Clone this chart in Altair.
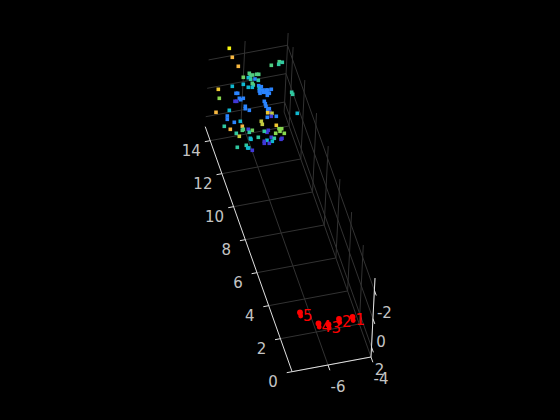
import numpy as np
import pandas as pd
import altair as alt

# Axis ticks (data units)
y_ticks = [0, 2, 4, 6, 8, 10, 12, 14]
x_ticks = [-6, -4]
z_ticks = [-2, 0, 2]
x_lim = (-7.67, -4.0)
y_lim = (0.0, 14.85)
z_lim = (-2.86, 2.7)

# Oblique view of the box: one data unit along each axis on the view plane
ORIGIN = np.array([371.0, 357.0])   # x=-4, y=0, z=z_max
EX = np.array([21.5, -4.0])
EY = np.array([-5.85, -16.5])
EZ = np.array([-0.72, 14.2])


def project(x, y, z):
    p = ORIGIN + (x + 4.0) * EX + y * EY + (z - z_lim[1]) * EZ
    return float(p[0]), float(p[1])


def seg(a, b, kind):
    (u, v), (u2, v2) = project(*a), project(*b)
    return {"u": u, "v": v, "u2": u2, "v2": v2, "kind": kind}


x0, x1 = x_lim
y0, y1 = y_lim
zt, zb = z_lim

grid = []
for y in y_ticks:
    grid.append(seg((x0, y, zb), (x1, y, zb), "grid"))   # floor
    grid.append(seg((x1, y, zb), (x1, y, zt), "grid"))   # side wall
for x in x_ticks:
    grid.append(seg((x, y0, zb), (x, y1, zb), "grid"))   # floor
    grid.append(seg((x, y1, zb), (x, y1, zt), "grid"))   # back wall
for z in z_ticks:
    grid.append(seg((x0, y1, z), (x1, y1, z), "grid"))   # back wall
    grid.append(seg((x1, y0, z), (x1, y1, z), "grid"))   # side wall

axes = [
    seg((x0, y0, zb), (x0, y1, zb), "axis"),
    seg((x0, y0, zb), (x1, y0, zb), "axis"),
    seg((x1, y0, zb), (x1, y0, zt), "axis"),
]
for y in y_ticks:
    axes.append(seg((x0, y, zb), (x0 - 0.25, y, zb), "axis"))
for x in x_ticks:
    axes.append(seg((x, y0, zb), (x, y0 - 0.32, zb), "axis"))
for z in z_ticks:
    axes.append(seg((x1, y0, z), (x1, y0 - 0.32, z), "axis"))

labels = []
for y in y_ticks:
    u, v = project(x0, y, zb)
    labels.append({"u": u - 19, "v": v + 10, "text": str(y)})
for x in x_ticks:
    u, v = project(x, y0, zb)
    labels.append({"u": u + 10, "v": v + 22, "text": str(x)})
for z, du in zip(z_ticks, [10, 8, 8]):
    u, v = project(x1, y0, z)
    labels.append({"u": u + du, "v": v + 23, "text": str(z)})

# Scattered cloud: view-plane position and colour value
cloud_u = [229.3, 232.3, 238.3, 271.3, 279.3, 282.3, 278.7, 243.3, 249.3, 250.3, 252.7, 256.7, 258.7,
           248.3, 250.7, 255.0, 258.3, 243.3, 252.3, 253.3, 248.3, 252.3, 232.3, 218.3, 258.7, 259.3,
           261.3, 259.3, 262.7, 266.0, 268.0, 271.3, 260.0, 263.3, 266.7, 269.3, 267.3, 236.0, 237.7,
           219.3, 239.3, 243.3, 240.7, 235.0, 236.7, 264.3, 265.3, 245.3, 245.3, 266.0, 268.0, 269.3,
           249.3, 267.7, 270.0, 267.7, 229.3, 216.0, 272.0, 271.3, 276.3, 267.3, 227.3, 227.3, 234.3,
           240.3, 261.3, 262.3, 276.3, 242.3, 224.3, 230.3, 248.3, 243.3, 242.3, 252.3, 279.0, 281.7,
           280.0, 268.3, 267.0, 264.3, 236.3, 249.3, 275.7, 284.3, 239.3, 258.3, 250.3, 251.0, 271.3,
           274.3, 267.0, 272.3, 264.3, 264.3, 269.3, 282.0, 281.0, 237.3, 246.3, 247.7, 248.7, 252.3,
           291.7, 292.7, 297.3]
cloud_v = [48.3, 57.3, 66.3, 65.3, 61.7, 62.3, 64.3, 77.3, 73.3, 76.0, 75.0, 74.3, 74.3,
           77.7, 79.3, 79.0, 80.3, 84.3, 83.3, 85.0, 87.3, 87.3, 86.3, 89.3, 85.7, 88.3,
           86.7, 91.0, 90.0, 90.0, 90.0, 89.3, 93.3, 92.3, 92.3, 93.3, 95.3, 93.3, 93.3,
           98.3, 98.3, 98.3, 99.7, 101.3, 101.3, 101.3, 103.7, 106.3, 108.7, 106.3, 108.7, 108.7,
           110.3, 110.3, 112.3, 112.7, 110.3, 112.3, 113.3, 116.3, 116.3, 117.3, 116.0, 119.3, 122.3,
           121.3, 121.3, 124.3, 125.3, 126.3, 126.3, 129.3, 129.3, 129.3, 130.3, 130.3, 128.7, 128.7,
           131.3, 130.3, 132.3, 131.3, 133.3, 132.3, 133.3, 133.3, 136.3, 137.3, 138.3, 139.3, 137.3,
           138.3, 140.3, 141.3, 141.3, 143.3, 143.3, 138.3, 139.3, 147.3, 145.3, 148.0, 148.0, 150.3,
           92.3, 94.3, 113.3]
# 0 indigo ... 11 yellow
cloud_c = [11, 9, 9, 4, 4, 3, 3, 5, 4, 4, 4, 4, 4,
           2, 3, 1, 3, 2, 4, 4, 2, 2, 2, 10, 1, 2,
           1, 1, 1, 1, 1, 1, 1, 1, 1, 1, 1, 1, 1,
           6, 1, 1, 1, 0, 0, 1, 1, 1, 1, 1, 1, 1,
           1, 1, 0, 10, 2, 9, 7, 0, 1, 1, 1, 1, 1,
           2, 7, 7, 10, 9, 3, 9, 0, 4, 4, 5, 6, 6,
           6, 0, 0, 3, 3, 3, 6, 6, 7, 3, 2, 2, 0,
           3, 2, 2, 0, 0, 0, 0, 0, 3, 3, 2, 2, 0,
           3, 3, 2]
palette = ["#4038d8", "#2a84ff", "#10b8d0", "#30c8a0", "#50cc80", "#70d060",
           "#88d850", "#c4cc40", "#e0d040", "#f8b840", "#f0c830", "#f8f810"]

cloud = pd.DataFrame({"u": cloud_u, "v": cloud_v, "c": cloud_c})

# Red labelled points
red_u = [300.0, 318.5, 328.5, 339.0, 352.5]
red_v = [312.5, 323.5, 324.5, 319.0, 317.0]
red_names = ["5", "4", "3", "2", "1"]
red = pd.DataFrame({"u": red_u, "v": red_v, "name": red_names})
red_low = pd.DataFrame({"u": [a + 0.7 for a in red_u], "v": [b + 3.5 for b in red_v]})

U = alt.Scale(domain=[8, 552], range=[0, 544])
V = alt.Scale(domain=[408, 8], range=[400, 0])
ux = alt.X("u:Q", scale=U, axis=None)
vy = alt.Y("v:Q", scale=V, axis=None)


def rules(rows, color, w):
    return alt.Chart(pd.DataFrame(rows)).mark_rule(color=color, strokeWidth=w).encode(
        x=ux, y=vy, x2="u2:Q", y2="v2:Q")


layers = [
    rules(grid, "#323232", 1.0),
    rules(axes, "#e0e0e0", 1.0),
    alt.Chart(pd.DataFrame(labels)).mark_text(
        font="DejaVu Sans", fontSize=15, color="#c4c4c4", align="center", baseline="middle"
    ).encode(x=ux, y=vy, text="text:N"),
    alt.Chart(cloud).mark_square(size=13, opacity=1, filled=True).encode(
        x=ux, y=vy,
        color=alt.Color("c:O", scale=alt.Scale(domain=list(range(12)), range=palette), legend=None)),
    alt.Chart(red).mark_circle(size=34, color="#ff0000", opacity=1).encode(x=ux, y=vy),
    alt.Chart(red_low).mark_circle(size=24, color="#ff0000", opacity=1).encode(x=ux, y=vy),
    alt.Chart(red).mark_text(
        font="DejaVu Sans", fontSize=15, color="#ff0000", align="left", baseline="middle", dx=3, dy=3
    ).encode(x=ux, y=vy, text="name:N"),
]

chart = alt.layer(*layers).properties(
    width=544, height=400, padding=0, background="#000000",
    autosize=alt.AutoSizeParams(type="none", contains="content"),
).configure_view(stroke=None, fill="#000000")

chart.save("out.html", embed_options={"renderer": "svg", "actions": False,
                                      "defaultStyle": "html,body{background:#000;overflow:hidden}"})
